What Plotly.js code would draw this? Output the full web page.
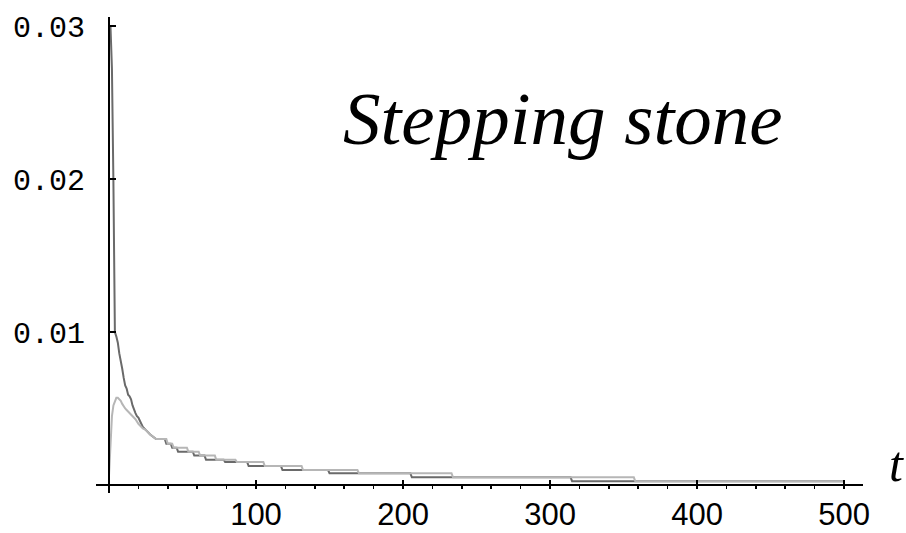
<!DOCTYPE html>
<html>
<head>
<meta charset="utf-8">
<script src="https://cdn.plot.ly/plotly-3.0.1.min.js"></script>
<style>html,body{margin:0;padding:0;background:#fff;}#chart{width:906px;height:533px;}</style>
</head>
<body>
<div id="chart"></div>
<script>
// Dark series (starts high)
const darkT = [1, 2, 3, 4, 5, 6, 7, 8, 9, 10, 11, 12, 13, 14, 15, 16, 17, 18, 19, 20, 21, 23, 25, 28, 32,
  38, 39, 42, 43, 46, 47, 57, 58, 65, 66, 78, 79, 94, 95, 117, 118, 149, 150, 205, 206, 314, 315, 500];
const darkV = [0.0300, 0.0272, 0.0198, 0.0100, 0.0097, 0.0093, 0.0086, 0.0082, 0.0076, 0.0070, 0.0065, 0.0063, 0.0059, 0.0058, 0.0056, 0.0052, 0.0049, 0.0047, 0.0045, 0.0044, 0.0042, 0.0038, 0.0036, 0.0033, 0.0030,
  0.0030, 0.0027, 0.0027, 0.00244, 0.00244, 0.00218, 0.00218, 0.00192, 0.00192, 0.00165, 0.00165, 0.0015, 0.0015, 0.00124, 0.00124, 0.00098, 0.00098, 0.00077, 0.00077, 0.0005, 0.0005, 0.00025, 0.00025];

// Light series (starts low, peaks, then decays)
const lightT = [0, 1, 2, 3, 4, 5, 6, 7, 8, 9, 10, 11, 12, 13, 14, 16, 18, 20, 21, 23, 25, 28, 32,
  39, 40, 43, 44, 53, 54, 61, 62, 72, 73, 86, 87, 105, 106, 131, 132, 169, 170, 233, 234, 357, 358, 500];
const lightV = [0.0006, 0.0030, 0.0045, 0.0052, 0.0055, 0.0057, 0.0057, 0.0056, 0.0055, 0.0053, 0.0051, 0.0050, 0.0049, 0.0048, 0.0047, 0.0045, 0.0043, 0.0040, 0.0039, 0.0037, 0.0036, 0.0033, 0.0030,
  0.0030, 0.0027, 0.0027, 0.00244, 0.00244, 0.00218, 0.00218, 0.00192, 0.00192, 0.00165, 0.00165, 0.0015, 0.0015, 0.00124, 0.00124, 0.00098, 0.00098, 0.00077, 0.00077, 0.0005, 0.0005, 0.00025, 0.00025];

const xTickVals = [100, 200, 300, 400, 500];
const xTickText = ['100', '200', '300', '400', '500'];
const yTickVals = [0.01, 0.02, 0.03];
const yTickText = ['0.01', '0.02', '0.03'];
const titleText = 'Stepping stone';
const xLabel = 't';

const xRange = [-8.84, 512.9];
const yRange = [-0.000523, 0.030588];
const yPos = (0 - xRange[0]) / (xRange[1] - xRange[0]);
const xPos = (0 - yRange[0]) / (yRange[1] - yRange[0]);

const traces = [
  {x: darkT, y: darkV, type: 'scatter', mode: 'lines', line: {color: '#6a6a6a', width: 2}, hoverinfo: 'skip'},
  {x: lightT, y: lightV, type: 'scatter', mode: 'lines', line: {color: '#b6b6b6', width: 2}, hoverinfo: 'skip'}
];

const layout = {
  width: 906, height: 533,
  margin: {l: 96, r: 43, t: 17, b: 40},
  paper_bgcolor: '#ffffff', plot_bgcolor: '#ffffff',
  showlegend: false,
  xaxis: {
    range: xRange, anchor: 'free', position: xPos,
    showgrid: false, zeroline: false,
    showline: true, linecolor: '#000', linewidth: 2,
    tickmode: 'array', tickvals: xTickVals, ticktext: xTickText,
    ticks: 'inside', ticklen: 4, tickwidth: 2, tickcolor: '#000',
    ticklabelstandoff: 2,
    tickfont: {family: 'Liberation Sans, Arial, sans-serif', size: 31, color: '#000'},
    minor: {tickmode: 'linear', tick0: 0, dtick: 20, ticks: 'outside', ticklen: 3, tickwidth: 1.5, tickcolor: '#000', showgrid: false}
  },
  yaxis: {
    range: yRange, anchor: 'free', position: yPos,
    showgrid: false, zeroline: false,
    showline: true, linecolor: '#000', linewidth: 2,
    tickmode: 'array', tickvals: yTickVals, ticktext: yTickText,
    ticks: 'inside', ticklen: 6, tickwidth: 2, tickcolor: '#000',
    ticklabelstandoff: 17,
    tickfont: {family: 'Liberation Mono, DejaVu Sans Mono, monospace', size: 30, color: '#000'}
  },
  annotations: [
    {xref: 'paper', yref: 'paper', x: 0.6095, y: 0.7866, xanchor: 'center', yanchor: 'middle',
     text: '<i>' + titleText + '</i>', showarrow: false,
     font: {family: 'Liberation Serif, Times New Roman, serif', size: 75, color: '#000'}},
    {xref: 'paper', yref: 'paper', x: 1.031, y: 0.060, xanchor: 'left', yanchor: 'middle',
     text: '<i>' + xLabel + '</i>', showarrow: false,
     font: {family: 'Liberation Serif, Times New Roman, serif', size: 50, color: '#000'}}
  ]
};

Plotly.newPlot('chart', traces, layout, {displayModeBar: false, staticPlot: true});
</script>
</body>
</html>
